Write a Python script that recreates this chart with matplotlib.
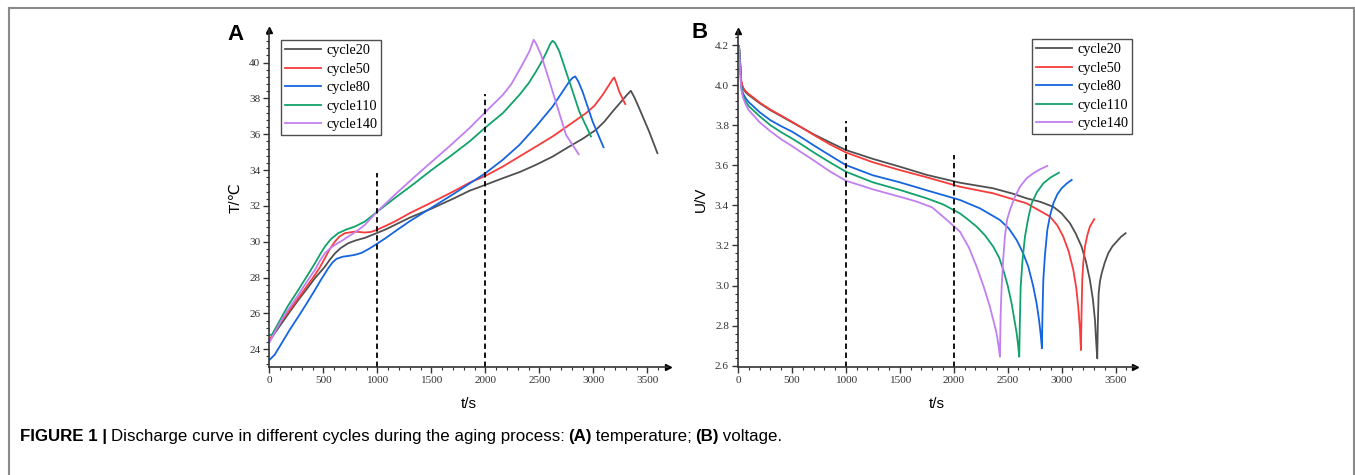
# encoding: utf-8
# Discharge curves for different cycles: (A) temperature, (B) voltage
import matplotlib
matplotlib.use("Agg")
import matplotlib.pyplot as plt
from matplotlib.ticker import MultipleLocator, FormatStrFormatter
from matplotlib.lines import Line2D

labels = ["cycle20", "cycle50", "cycle80", "cycle110", "cycle140"]
colors = ["#505050", "#f83b3b", "#1565e0", "#11a26a", "#c17ff0"]

# ---- panel A: temperature (t/s, T/degC)
t20 = [0, 50, 114, 190, 268, 345, 422, 470, 514, 560, 607, 660, 730, 800, 884, 992, 1080, 1161, 1300, 1500, 1700, 1853, 2000, 2161, 2320, 2469, 2620, 2777, 2900, 3023, 3100, 3177, 3260, 3310, 3346, 3380, 3423, 3515, 3592]
T20 = [24.45, 24.9, 25.45, 26.1, 26.75, 27.35, 27.97, 28.3, 28.61, 29.0, 29.35, 29.65, 29.92, 30.08, 30.22, 30.48, 30.7, 30.94, 31.35, 31.85, 32.4, 32.85, 33.18, 33.55, 33.9, 34.3, 34.75, 35.32, 35.75, 36.25, 36.7, 37.27, 37.85, 38.2, 38.43, 38.05, 37.46, 36.16, 34.95]
t50 = [0, 50, 114, 190, 268, 345, 422, 470, 514, 560, 607, 650, 699, 791, 884, 940, 992, 1080, 1161, 1300, 1500, 1700, 1853, 2000, 2161, 2315, 2469, 2622, 2777, 2931, 3010, 3085, 3146, 3175, 3192, 3210, 3238, 3294]
T50 = [24.5, 25.0, 25.6, 26.2, 26.85, 27.5, 28.15, 28.6, 29.08, 29.6, 30.01, 30.3, 30.48, 30.57, 30.52, 30.55, 30.66, 30.9, 31.13, 31.6, 32.19, 32.8, 33.3, 33.68, 34.2, 34.76, 35.32, 35.88, 36.53, 37.18, 37.6, 38.2, 38.77, 39.05, 39.17, 38.9, 38.39, 37.69]
t80 = [0, 50, 114, 190, 268, 345, 422, 480, 545, 585, 622, 680, 730, 790, 853, 920, 992, 1080, 1161, 1300, 1500, 1700, 1853, 2000, 2161, 2315, 2469, 2622, 2715, 2777, 2810, 2832, 2860, 2899, 2992, 3093]
T80 = [23.4, 23.7, 24.34, 25.1, 25.82, 26.55, 27.31, 27.9, 28.52, 28.85, 29.05, 29.17, 29.21, 29.27, 29.38, 29.6, 29.87, 30.22, 30.57, 31.15, 31.9, 32.65, 33.25, 33.83, 34.58, 35.41, 36.44, 37.55, 38.39, 38.95, 39.17, 39.23, 38.95, 38.39, 36.72, 35.28]
t110 = [0, 25, 83, 170, 268, 345, 422, 470, 514, 570, 637, 710, 791, 884, 992, 1161, 1330, 1500, 1680, 1853, 2000, 2161, 2315, 2400, 2469, 2530, 2576, 2600, 2622, 2645, 2684, 2730, 2777, 2869, 2977]
T110 = [24.8, 24.82, 25.45, 26.4, 27.31, 28.05, 28.8, 29.3, 29.73, 30.15, 30.48, 30.68, 30.85, 31.13, 31.65, 32.44, 33.2, 34.0, 34.8, 35.6, 36.38, 37.18, 38.2, 38.85, 39.51, 40.15, 40.72, 41.05, 41.22, 41.1, 40.63, 39.8, 38.95, 37.27, 35.88]
t140 = [0, 50, 114, 190, 268, 345, 422, 470, 514, 560, 607, 670, 730, 810, 884, 992, 1161, 1330, 1500, 1680, 1853, 2000, 2161, 2240, 2315, 2370, 2407, 2430, 2447, 2470, 2515, 2570, 2622, 2746, 2863]
T140 = [24.37, 24.95, 25.64, 26.35, 27.03, 27.75, 28.43, 28.95, 29.36, 29.62, 29.83, 30.05, 30.29, 30.6, 30.94, 31.65, 32.62, 33.55, 34.45, 35.4, 36.35, 37.24, 38.2, 38.8, 39.6, 40.2, 40.63, 41.0, 41.28, 41.05, 40.44, 39.4, 38.39, 35.97, 34.89]

# ---- panel B: voltage (t/s, U/V)
t20b = [0, 10, 20, 30, 45, 70, 100, 150, 200, 300, 400, 500, 600, 700, 850, 1000, 1250, 1500, 1750, 2057, 2366, 2550, 2676, 2800, 2923, 3000, 3077, 3130, 3185, 3225, 3262, 3290, 3309, 3320, 3330, 3335, 3343, 3355, 3371, 3400, 3432, 3470, 3510, 3550, 3593]
V20b = [4.20, 4.195, 4.12, 4.02, 3.985, 3.965, 3.95, 3.93, 3.91, 3.875, 3.845, 3.815, 3.785, 3.755, 3.715, 3.676, 3.632, 3.593, 3.552, 3.513, 3.485, 3.458, 3.435, 3.418, 3.393, 3.36, 3.311, 3.26, 3.194, 3.12, 3.028, 2.93, 2.828, 2.72, 2.637, 2.80, 2.961, 3.02, 3.061, 3.115, 3.161, 3.195, 3.219, 3.243, 3.261]
t50b = [0, 10, 20, 30, 45, 70, 100, 150, 200, 300, 400, 500, 600, 700, 850, 1000, 1250, 1500, 1750, 2057, 2366, 2676, 2892, 2960, 3015, 3065, 3108, 3135, 3154, 3170, 3179, 3184, 3191, 3200, 3216, 3240, 3262, 3302]
V50b = [4.19, 4.185, 4.11, 4.02, 3.99, 3.97, 3.955, 3.935, 3.913, 3.878, 3.848, 3.817, 3.785, 3.752, 3.705, 3.664, 3.615, 3.576, 3.54, 3.493, 3.46, 3.41, 3.344, 3.30, 3.244, 3.17, 3.078, 2.99, 2.894, 2.78, 2.678, 2.85, 3.028, 3.11, 3.194, 3.255, 3.294, 3.331]
t80b = [0, 10, 20, 30, 45, 70, 100, 150, 200, 300, 400, 500, 600, 700, 850, 1000, 1250, 1500, 1750, 2057, 2243, 2428, 2510, 2583, 2640, 2691, 2735, 2768, 2790, 2805, 2817, 2822, 2830, 2845, 2867, 2893, 2923, 2960, 3000, 3045, 3093]
V80b = [4.2, 4.19, 4.1, 4.0, 3.96, 3.935, 3.915, 3.89, 3.865, 3.825, 3.795, 3.768, 3.735, 3.70, 3.65, 3.601, 3.55, 3.515, 3.475, 3.427, 3.385, 3.327, 3.285, 3.227, 3.165, 3.094, 3.0, 2.911, 2.83, 2.76, 2.687, 2.85, 3.028, 3.15, 3.277, 3.35, 3.41, 3.455, 3.485, 3.508, 3.527]
t110b = [0, 10, 20, 30, 45, 70, 100, 150, 200, 300, 400, 500, 600, 700, 850, 1000, 1250, 1500, 1750, 1900, 2057, 2130, 2212, 2290, 2366, 2420, 2459, 2500, 2536, 2565, 2583, 2597, 2607, 2612, 2620, 2638, 2660, 2690, 2722, 2770, 2830, 2900, 2975]
V110b = [4.2, 4.19, 4.09, 3.99, 3.95, 3.92, 3.895, 3.87, 3.845, 3.80, 3.765, 3.734, 3.70, 3.665, 3.615, 3.568, 3.515, 3.477, 3.435, 3.405, 3.36, 3.33, 3.294, 3.25, 3.194, 3.14, 3.078, 3.0, 2.911, 2.82, 2.762, 2.70, 2.645, 2.8, 2.994, 3.13, 3.244, 3.335, 3.41, 3.465, 3.51, 3.54, 3.563]
t140b = [0, 10, 20, 30, 45, 70, 100, 150, 200, 300, 400, 500, 600, 700, 850, 1000, 1250, 1500, 1650, 1800, 1930, 2057, 2140, 2212, 2280, 2335, 2375, 2397, 2415, 2428, 2434, 2444, 2458, 2474, 2495, 2521, 2565, 2614, 2675, 2737, 2800, 2867]
V140b = [4.2, 4.185, 4.08, 3.98, 3.94, 3.905, 3.875, 3.845, 3.815, 3.77, 3.73, 3.696, 3.66, 3.625, 3.57, 3.523, 3.48, 3.443, 3.42, 3.39, 3.33, 3.269, 3.19, 3.094, 2.99, 2.894, 2.81, 2.762, 2.70, 2.645, 2.85, 2.994, 3.13, 3.244, 3.33, 3.377, 3.44, 3.493, 3.535, 3.56, 3.58, 3.597]

# dashed marker lines (x, top value)
dashA = [(1000, 33.85), (2000, 38.26)]
dashB = [(1000, 3.821), (2000, 3.651)]

serif = ["Liberation Serif", "DejaVu Serif"]
sans = ["Liberation Sans", "DejaVu Sans"]

fig = plt.figure(figsize=(13.55, 4.75), dpi=100)

# light grey frame round the figure (open at the bottom)
fc = "#8a8a8a"
fig.add_artist(Line2D([9 / 1355, 9 / 1355], [0, 1 - 8 / 475], transform=fig.transFigure, color=fc, lw=1.5))
fig.add_artist(Line2D([9 / 1355, 1354 / 1355], [1 - 8 / 475, 1 - 8 / 475], transform=fig.transFigure, color=fc, lw=1.5))
fig.add_artist(Line2D([1354 / 1355, 1354 / 1355], [0, 1 - 8 / 475], transform=fig.transFigure, color=fc, lw=1.5))

axA = fig.add_axes([269.3 / 1355, 1 - 366.7 / 475, (668 - 269.3) / 1355, (366.7 - 29.5) / 475])
axB = fig.add_axes([738 / 1355, 1 - 366.7 / 475, (1135 - 738) / 1355, (366.7 - 31) / 475])

for t, T, c, lab in zip([t20, t50, t80, t110, t140], [T20, T50, T80, T110, T140], colors, labels):
    axA.plot(t, T, color=c, lw=1.3, label=lab, solid_joinstyle="round")
for t, V, c, lab in zip([t20b, t50b, t80b, t110b, t140b], [V20b, V50b, V80b, V110b, V140b], colors, labels):
    axB.plot(t, V, color=c, lw=1.3, label=lab, solid_joinstyle="round")

axA.set_xlim(0, 3690)
axA.set_ylim(23.03, 41.85)
axB.set_xlim(0, 3680)
axB.set_ylim(2.595, 4.27)

for x, top in dashA:
    axA.plot([x, x], [23.03, top], color="black", ls=(0, (3, 2)), lw=1.3)
for x, top in dashB:
    axB.plot([x, x], [2.595, top], color="black", ls=(0, (3, 2)), lw=1.3)

axA.yaxis.set_major_locator(MultipleLocator(2))
axA.yaxis.set_minor_locator(MultipleLocator(0.4))
axB.yaxis.set_major_locator(MultipleLocator(0.2))
axB.yaxis.set_minor_locator(MultipleLocator(0.04))
axB.yaxis.set_major_formatter(FormatStrFormatter("%.1f"))

for ax in (axA, axB):
    ax.xaxis.set_major_locator(MultipleLocator(500))
    ax.xaxis.set_minor_locator(MultipleLocator(100))
    ax.spines["top"].set_visible(False)
    ax.spines["right"].set_visible(False)
    for s in ("left", "bottom"):
        ax.spines[s].set_color("#333333")
        ax.spines[s].set_linewidth(1.2)
    ax.tick_params(which="major", direction="out", length=4, width=1, color="#333333", pad=2.5)
    ax.tick_params(which="minor", direction="out", length=2.5, width=0.8, color="#333333")
    for lbl in ax.get_xticklabels() + ax.get_yticklabels():
        lbl.set_family(serif)
        lbl.set_fontsize(8.1)
        lbl.set_color("#333333")
    ax.plot(1, 0, ">", color="black", ms=5, transform=ax.transAxes, clip_on=False)
    ax.plot(0, 1, "^", color="black", ms=5, transform=ax.transAxes, clip_on=False)
    ax.set_xlabel("t/s", family=sans, fontsize=11, labelpad=9)

axA.set_ylabel("T/℃", family=sans, fontsize=11, labelpad=5)
axB.set_ylabel("U/V", family=sans, fontsize=11, labelpad=5)

legA = axA.legend(loc="upper left", bbox_to_anchor=(281 / 1355, 1 - 40 / 475), bbox_transform=fig.transFigure,
                  prop={"family": serif, "size": 10.3}, frameon=True, fancybox=False, borderaxespad=0,
                  handlelength=2.5, handletextpad=0.35, labelspacing=0.38, borderpad=0.3)
legB = axB.legend(loc="upper left", bbox_to_anchor=(1032 / 1355, 1 - 39 / 475), bbox_transform=fig.transFigure,
                  prop={"family": serif, "size": 10.3}, frameon=True, fancybox=False, borderaxespad=0,
                  handlelength=2.5, handletextpad=0.35, labelspacing=0.38, borderpad=0.3)
for leg in (legA, legB):
    leg.get_frame().set_edgecolor("#222222")
    leg.get_frame().set_linewidth(1.0)

fig.text(236 / 1355, 1 - 34 / 475, "A", family=sans, fontsize=16, fontweight="bold", ha="center", va="center")
fig.text(700 / 1355, 1 - 33 / 475, "B", family=sans, fontsize=16, fontweight="bold", ha="center", va="center")

# caption: bold lead-in followed by normal text, pieces placed one after another
narrow = ["Liberation Sans Narrow", "Liberation Sans", "DejaVu Sans"]
pieces = [("FIGURE 1 | ", "bold"),
          ("Discharge curve in different cycles during the aging process: ", "normal"),
          ("(A)", "bold"), (" temperature; ", "normal"),
          ("(B)", "bold"), (" voltage.", "normal")]
xpos = 20
for txt, wt in pieces:
    tx = fig.text(xpos / 1355, 1 - 436 / 475, txt, family=narrow, fontsize=12.2, fontweight=wt, va="center")
    fig.canvas.draw()
    xpos = tx.get_window_extent().x1 - 1

fig.savefig("out.png", dpi=100)
